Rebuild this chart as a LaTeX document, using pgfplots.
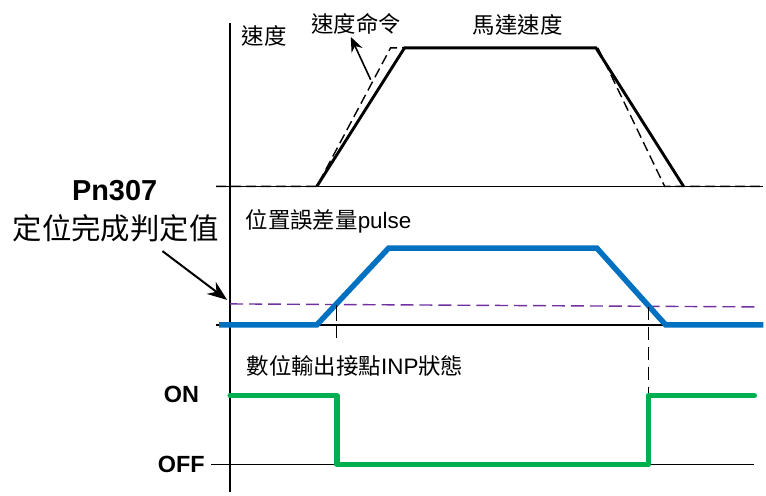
\documentclass[border=0pt]{standalone}
\usepackage{pgfplots}
\pgfplotsset{compat=1.18}
\usepackage{fontspec}
\setmainfont{Liberation Sans}
\newfontfamily\cjk{Noto Sans CJK TC}
\usetikzlibrary{arrows.meta}

\definecolor{errblue}{RGB}{0,112,192}
\definecolor{inpgreen}{RGB}{0,176,80}
\definecolor{thrpurple}{RGB}{112,48,160}

\begin{document}
\begin{tikzpicture}
\begin{axis}[
  scale only axis, width=766pt, height=497pt,
  xmin=0, xmax=766, ymin=0, ymax=497, y dir=reverse,
  hide axis, clip=false,
  every node/.style={inner sep=0pt},
]
% frame of the picture
\addplot[draw=none] coordinates {(0,0) (766,497)};

% time axis (vertical) and baselines
\addplot[black, line width=1.4pt] coordinates {(231,23) (231,494)};
\addplot[black, line width=1.4pt] coordinates {(217,187) (766,187)};
\addplot[black, line width=1.4pt] coordinates {(217,326) (766,326)};
\addplot[black, line width=1.4pt] coordinates {(212,466) (757,466)};

% speed command (dashed)
\addplot[black, line width=1.4pt, dash pattern=on 10pt off 5pt]
  coordinates {(217,187) (318,187) (392,48) (405,48)};
\addplot[black, line width=1.4pt, dash pattern=on 10pt off 5pt]
  coordinates {(600,48) (667,187) (766,187)};
% motor speed
\addplot[black, line width=2.9pt, line join=miter]
  coordinates {(318,187) (406,48) (598,48) (686,187)};

% position error
\addplot[thrpurple, line width=1.4pt, dash pattern=on 13pt off 6pt]
  coordinates {(231,305) (757,308)};
\addplot[errblue, line width=5.5pt, line join=miter]
  coordinates {(220,326) (318,326) (390,249) (599,249) (668,326) (766,326)};

% vertical markers
\addplot[black, line width=1.4pt, dash pattern=on 16pt off 5pt]
  coordinates {(338,306) (338,339)};
\addplot[black, line width=1.4pt, dash pattern=on 13pt off 7pt]
  coordinates {(651,308) (651,397)};

% INP output
\addplot[inpgreen, line width=5.5pt, line cap=round, line join=round]
  coordinates {(231,397) (338,397) (338,466) (651,466) (651,397) (757,397)};

% arrows
\addplot[black, line width=1.6pt, -{Stealth[length=15pt,width=12pt]}]
  coordinates {(372,80) (352,37)};
\addplot[black, line width=2pt, -{Stealth[length=20pt,width=15pt]}]
  coordinates {(163,252) (228,301)};

% labels
\node[anchor=west, font=\cjk\fontsize{22.5}{26}\selectfont] at (axis cs:239,36) {速度};
\node[anchor=west, font=\cjk\fontsize{22.5}{26}\selectfont] at (axis cs:309,24) {速度命令};
\node[anchor=west, font=\cjk\fontsize{22.5}{26}\selectfont] at (axis cs:471,25) {馬達速度};
\node[font=\bfseries\fontsize{29}{34}\selectfont] at (axis cs:115,191) {Pn307};
\node[font=\cjk\fontsize{29.5}{34}\selectfont] at (axis cs:116,229) {定位完成判定值};
\node[anchor=west, font=\fontsize{22.5}{26}\selectfont] at (axis cs:243,222) {{\cjk 位置誤差量}pulse};
\node[anchor=west, font=\fontsize{22.5}{26}\selectfont] at (axis cs:244,367) {{\cjk 數位輸出接點}INP{\cjk 狀態}};
\node[font=\bfseries\fontsize{23.5}{28}\selectfont] at (axis cs:182,396) {ON};
\node[font=\bfseries\fontsize{23.5}{28}\selectfont] at (axis cs:182,466) {OFF};
\end{axis}
\end{tikzpicture}
\end{document}
